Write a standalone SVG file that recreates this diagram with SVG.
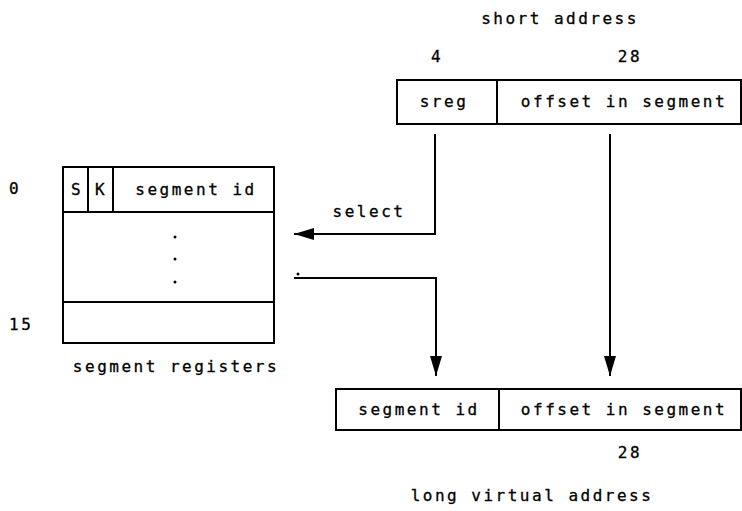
<svg xmlns="http://www.w3.org/2000/svg" width="742" height="511" viewBox="0 0 742 511">
<defs>
<style>
text{font-family:"DejaVu Sans Mono","Liberation Mono",monospace;font-size:16px;fill:#000;stroke:#000;stroke-width:0.3;letter-spacing:2.5px}
.m{text-anchor:middle}
.b{fill:#fff;stroke:#000;stroke-width:2}
.l{fill:none;stroke:#000;stroke-width:2}
</style>
<marker id="ah" viewBox="0 0 20 12" refX="20" refY="6" markerWidth="20" markerHeight="12" markerUnits="userSpaceOnUse" orient="auto">
<path d="M0,0 L20,6 L0,12 z" fill="#000"/>
</marker>
</defs>
<rect width="742" height="511" fill="#fff"/>
<g id="short-address">
<text class="m" x="560" y="24">short address</text>
<text class="m" x="437" y="62">4</text>
<text class="m" x="630" y="62">28</text>
<rect class="b" x="397" y="80" width="344" height="44"/>
<line class="l" x1="497" y1="80" x2="497" y2="124"/>
<text class="m" x="444" y="107">sreg</text>
<text class="m" x="624" y="107">offset in segment</text>
</g>
<g id="segment-registers">
<rect class="b" x="63" y="167" width="211" height="176"/>
<line class="l" x1="63" y1="212" x2="274" y2="212"/>
<line class="l" x1="63" y1="302" x2="274" y2="302"/>
<line class="l" x1="88" y1="167" x2="88" y2="212"/>
<line class="l" x1="113" y1="167" x2="113" y2="212"/>
<text class="m" x="77" y="195">S</text>
<text class="m" x="101" y="195">K</text>
<text class="m" x="196" y="195">segment id</text>
<circle cx="175" cy="237" r="1.5"/>
<circle cx="175" cy="259" r="1.5"/>
<circle cx="175" cy="282" r="1.5"/>
<text x="9" y="194">0</text>
<text x="9" y="330">15</text>
<text class="m" x="176" y="372">segment registers</text>
</g>
<g id="long-virtual-address">
<rect class="b" x="336" y="389" width="405" height="41"/>
<line class="l" x1="499" y1="389" x2="499" y2="430"/>
<text class="m" x="419" y="415">segment id</text>
<text class="m" x="624" y="415">offset in segment</text>
<text class="m" x="630" y="458">28</text>
<text class="m" x="532" y="501">long virtual address</text>
</g>
<g id="connectors">
<text class="m" x="369" y="217">select</text>
<polyline class="l" points="435,134 435,234 294,234" marker-end="url(#ah)"/>
<polyline class="l" points="294,278 436,278 436,376" marker-end="url(#ah)"/>
<circle cx="298" cy="274" r="1.5"/>
<line class="l" x1="610" y1="134" x2="610" y2="376" marker-end="url(#ah)"/>
</g>
</svg>
